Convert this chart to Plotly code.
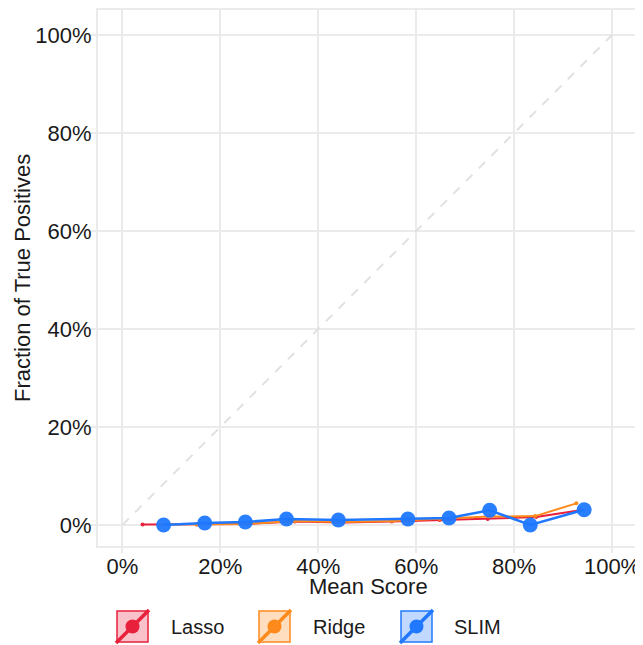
import plotly.graph_objects as go

# ---- data ----
lasso_x = [0.041, 0.152, 0.252, 0.352, 0.451, 0.550, 0.648, 0.746, 0.845, 0.935]
lasso_y = [0.001, 0.001, 0.002, 0.007, 0.005, 0.007, 0.010, 0.012, 0.016, 0.030]
ridge_x = [0.075, 0.152, 0.252, 0.352, 0.451, 0.550, 0.648, 0.748, 0.843, 0.927]
ridge_y = [0.001, 0.001, 0.002, 0.008, 0.006, 0.008, 0.012, 0.017, 0.018, 0.044]
slim_x = [0.084, 0.168, 0.251, 0.335, 0.441, 0.583, 0.667, 0.750, 0.833, 0.943]
slim_y = [0.000, 0.004, 0.006, 0.012, 0.010, 0.012, 0.014, 0.030, 0.000, 0.031]
diag = [0.0, 1.0]
tick_vals = [0, 0.2, 0.4, 0.6, 0.8, 1.0]
tick_text = ["0%", "20%", "40%", "60%", "80%", "100%"]
series_names = ["Lasso", "Ridge", "SLIM"]
x_title = "Mean Score"
y_title = "Fraction of True Positives"
colors = {"Lasso": "#E8203C", "Ridge": "#FF8A1C", "SLIM": "#1F78FF"}
fills = {"Lasso": "rgba(232,32,60,0.28)", "Ridge": "rgba(255,138,28,0.28)", "SLIM": "rgba(31,120,255,0.28)"}

# page has an 8px body margin; size figure to fill the 643x645 window
OFF = 8
W, H = 643 - OFF, 645 - OFF
L, R, T, B = 90, 5, 2, 99
PW, PH = W - L - R, H - T - B
FONT = "Liberation Sans, Arial, sans-serif"
GRID = "#EBEBEB"
TXT = "#1a1a1a"
FS = 22

fig = go.Figure()
fig.add_trace(go.Scatter(x=diag, y=diag, mode="lines",
                         line=dict(color="#E1E1E1", width=2, dash="dash"),
                         showlegend=False, hoverinfo="skip"))
fig.add_trace(go.Scatter(x=lasso_x, y=lasso_y, mode="lines+markers", name="Lasso",
                         line=dict(color=colors["Lasso"], width=2),
                         marker=dict(color=colors["Lasso"], size=4), showlegend=False))
fig.add_trace(go.Scatter(x=ridge_x, y=ridge_y, mode="lines+markers", name="Ridge",
                         line=dict(color=colors["Ridge"], width=2),
                         marker=dict(color=colors["Ridge"], size=4), showlegend=False))
fig.add_trace(go.Scatter(x=slim_x, y=slim_y, mode="lines+markers", name="SLIM",
                         line=dict(color=colors["SLIM"], width=2.5),
                         marker=dict(color=colors["SLIM"], size=15, opacity=0.95), showlegend=False))

def px(x):
    return (x - OFF - L) / PW

def py(y):
    return (H - B - (y - OFF)) / PH

shapes = []
annotations = []
box_lefts = [117, 259, 401]
text_lefts = [169, 311, 452]
for name, bx, tx in zip(series_names, box_lefts, text_lefts):
    by0, by1 = 611, 642
    shapes.append(dict(type="rect", xref="paper", yref="paper",
                       x0=px(bx), x1=px(bx + 31), y0=py(by1), y1=py(by0),
                       line=dict(color=colors[name], width=1.5), fillcolor=fills[name]))
    shapes.append(dict(type="line", xref="paper", yref="paper",
                       x0=px(bx - 1), y0=py(by1 + 1), x1=px(bx + 32), y1=py(by0 - 1),
                       line=dict(color=colors[name], width=3.5)))
    cx, cy = bx + 15.5, (by0 + by1) / 2
    shapes.append(dict(type="circle", xref="paper", yref="paper",
                       x0=px(cx - 7), x1=px(cx + 7), y0=py(cy + 7), y1=py(cy - 7),
                       line=dict(color=colors[name], width=0), fillcolor=colors[name]))
    annotations.append(dict(text=name, xref="paper", yref="paper", x=px(tx), y=py(cy),
                            xanchor="left", yanchor="middle", showarrow=False,
                            font=dict(size=20, color=TXT, family=FONT)))

annotations.append(dict(text=x_title, xref="paper", yref="paper", x=px(368), y=py(586),
                        xanchor="center", yanchor="middle", showarrow=False,
                        font=dict(size=FS, color=TXT, family=FONT)))
annotations.append(dict(text=y_title, xref="paper", yref="paper", x=px(22), y=py(278),
                        xanchor="center", yanchor="middle", showarrow=False, textangle=-90,
                        font=dict(size=FS, color=TXT, family=FONT)))

fig.update_layout(
    width=W, height=H,
    margin=dict(l=L, r=R, t=T, b=B, autoexpand=False),
    paper_bgcolor="white", plot_bgcolor="white",
    font=dict(family=FONT, size=FS, color=TXT),
    shapes=shapes, annotations=annotations,
    showlegend=False,
)
axis_common = dict(
    tickvals=tick_vals, ticktext=tick_text,
    showgrid=True, gridcolor=GRID, gridwidth=2,
    showline=True, linecolor=GRID, linewidth=2, mirror=True,
    ticks="outside", ticklen=5, tickcolor=GRID, tickwidth=2,
    zeroline=False, automargin=False,
    tickfont=dict(size=FS, color=TXT, family=FONT),
)
fig.update_xaxes(**axis_common, range=[-0.05, 1.053], ticklabelstandoff=-5)
fig.update_yaxes(**axis_common, range=[-0.043, 1.051], ticklabelstandoff=-5)

fig.write_html("out.html")
